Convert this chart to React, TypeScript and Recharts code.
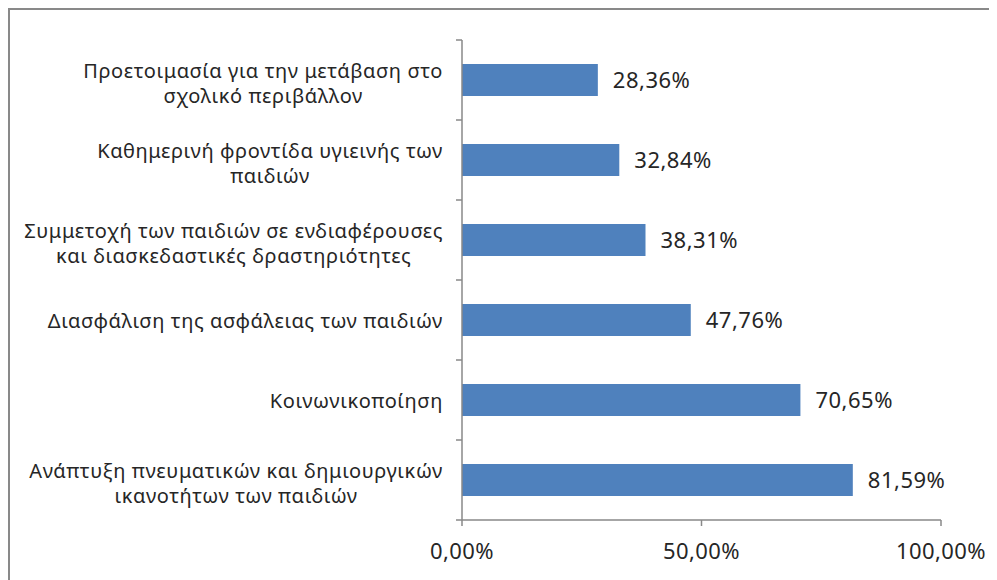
import React from 'react';
import { BarChart, Bar, XAxis, YAxis, LabelList } from 'recharts';

const CATEGORIES = [
  'Προετοιμασία για την μετάβαση στο\nσχολικό περιβάλλον',
  'Καθημερινή φροντίδα υγιεινής των\nπαιδιών',
  'Συμμετοχή των παιδιών σε ενδιαφέρουσες\nκαι διασκεδαστικές δραστηριότητες',
  'Διασφάλιση της ασφάλειας των παιδιών',
  'Κοινωνικοποίηση',
  'Ανάπτυξη πνευματικών και δημιουργικών\nικανοτήτων των παιδιών',
];
const VALUES = [28.36, 32.84, 38.31, 47.76, 70.65, 81.59];
const X_TICKS = [0, 50, 100];

const data = CATEGORIES.map((name, i) => ({ name, value: VALUES[i] }));

const FONT = '"Noto Sans", sans-serif';
const LABEL_SIZE = 20;
const LABEL_SPACING = 0.6;
const AXIS_COLOR = '#898989';
const TEXT_COLOR = '#262626';
const BAND = 80;

const fmt = (v: number) => v.toFixed(2).replace('.', ',') + '%';

let ctx: any = null;
const measure = (s: string) => {
  if (!ctx) ctx = document.createElement('canvas').getContext('2d');
  if (!ctx) return s.length * 11;
  ctx.font = `${LABEL_SIZE}px ${FONT}`;
  if ('letterSpacing' in ctx) {
    ctx.letterSpacing = `${LABEL_SPACING}px`;
    return ctx.measureText(s).width;
  }
  return ctx.measureText(s).width + s.length * LABEL_SPACING;
};

const CategoryTick = (props: any) => {
  const { x, y, payload, index } = props;
  const lines: string[] = String(payload.value).split('\n');
  const widths = lines.map(measure);
  const blockW = Math.max(...widths);
  const axisX = x + 19;
  const n = lines.length;
  return (
    <g>
      <line x1={axisX - 6} x2={axisX} y1={y - BAND / 2} y2={y - BAND / 2} stroke={AXIS_COLOR} strokeWidth={1.5} />
      {index === CATEGORIES.length - 1 && (
        <line x1={axisX - 6} x2={axisX} y1={y + BAND / 2} y2={y + BAND / 2} stroke={AXIS_COLOR} strokeWidth={1.5} />
      )}
      {lines.map((l, i) => (
        <text
          key={i}
          x={x - blockW / 2}
          y={y + (i - (n - 1) / 2) * 25 + (n > 1 ? 2.5 : 0)}
          textAnchor="middle"
          dominantBaseline="central"
          fontFamily={FONT}
          fontSize={LABEL_SIZE}
          letterSpacing={LABEL_SPACING}
          fill={TEXT_COLOR}
        >
          {l}
        </text>
      ))}
    </g>
  );
};

export default function App() {
  return (
    <div style={{ width: 980, height: 600, border: `2px solid ${AXIS_COLOR}`, background: '#fff' }}>
      <BarChart
        width={978}
        height={590}
        data={data}
        layout="vertical"
        margin={{ top: 30, right: 47, bottom: 40, left: 0 }}
      >
        <XAxis
          type="number"
          domain={[0, 100]}
          ticks={X_TICKS}
          tickFormatter={fmt}
          height={40}
          stroke={AXIS_COLOR}
          axisLine={{ stroke: AXIS_COLOR, strokeWidth: 1.5 }}
          tickLine={{ stroke: AXIS_COLOR, strokeWidth: 1.5 }}
          tickSize={6}
          tickMargin={17}
          tick={{ fill: TEXT_COLOR, fontSize: 22, fontFamily: FONT, letterSpacing: 0.4 }}
        />
        <YAxis
          type="category"
          dataKey="name"
          width={452}
          axisLine={{ stroke: AXIS_COLOR, strokeWidth: 1.5 }}
          tickLine={false}
          tickSize={6}
          tickMargin={13}
          tick={<CategoryTick />}
          interval={0}
        />
        <Bar dataKey="value" fill="#4F81BD" barSize={32} isAnimationActive={false}>
          <LabelList
            dataKey="value"
            position="right"
            offset={15}
            formatter={(v: any) => fmt(Number(v))}
            style={{ fill: TEXT_COLOR, fontSize: 22, fontFamily: FONT, letterSpacing: 0.5 }}
          />
        </Bar>
      </BarChart>
    </div>
  );
}
